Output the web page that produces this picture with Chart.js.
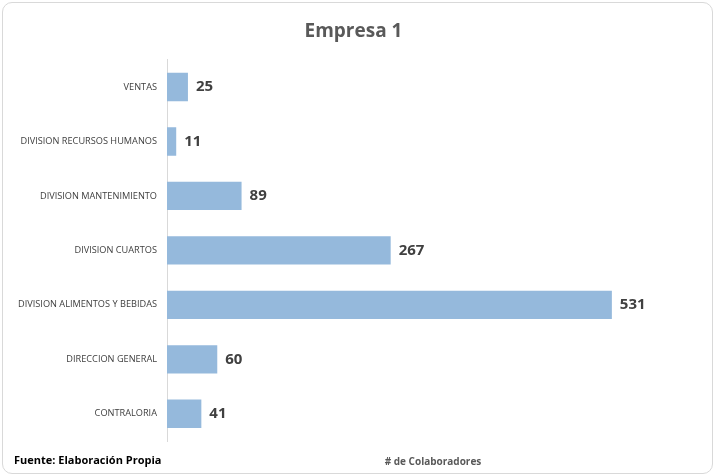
<!DOCTYPE html>
<html><head><meta charset="utf-8">
<script src="https://cdn.jsdelivr.net/npm/chart.js@4/dist/chart.umd.min.js"></script>
<style>
html,body{margin:0;padding:0;background:#fff;}
#wrap{position:absolute;left:2px;top:2px;width:709px;height:470px;border:1px solid #d9d9d9;border-radius:10px;overflow:hidden;background:#fff;}
canvas{position:absolute;left:-3px;top:-3px;}
</style></head><body>
<div id="wrap"><canvas id="c" width="715" height="476"></canvas></div>
<script>
const categories = ["VENTAS","DIVISION RECURSOS HUMANOS","DIVISION MANTENIMIENTO","DIVISION CUARTOS","DIVISION ALIMENTOS Y BEBIDAS","DIRECCION GENERAL","CONTRALORIA"];
const colaboradores = [25, 11, 89, 267, 531, 60, 41];
const chartTitle = "Empresa 1";
const axisTitle = "# de Colaboradores";
const sourceNote = "Fuente: Elaboración Propia";

const valueLabels = {
  id: 'valueLabels',
  afterDatasetsDraw(chart) {
    const ctx = chart.ctx;
    const meta = chart.getDatasetMeta(0);
    ctx.save();
    ctx.font = 'bold 15px "Open Sans", sans-serif';
    ctx.fillStyle = '#404040';
    ctx.textAlign = 'left';
    ctx.textBaseline = 'middle';
    meta.data.forEach((bar, i) => {
      ctx.fillText(String(colaboradores[i]), bar.x + 8, bar.y);
    });
    ctx.restore();
  }
};
const footNote = {
  id: 'footNote',
  afterDraw(chart) {
    const ctx = chart.ctx;
    ctx.save();
    ctx.font = 'bold 11px "Open Sans", sans-serif';
    ctx.fillStyle = '#000';
    ctx.textAlign = 'left';
    ctx.textBaseline = 'middle';
    ctx.fillText(sourceNote, 14, 461);
    ctx.restore();
  }
};

new Chart(document.getElementById('c'), {
  type: 'bar',
  data: {
    labels: categories,
    datasets: [{
      data: colaboradores,
      backgroundColor: '#95b9dc',
      borderWidth: 0,
      categoryPercentage: 1,
      barPercentage: 0.52
    }]
  },
  options: {
    indexAxis: 'y',
    responsive: false,
    animation: false,
    devicePixelRatio: 1,
    layout: { padding: { left: 8, right: 16, top: 0, bottom: 8 } },
    plugins: {
      legend: { display: false },
      tooltip: { enabled: false },
      title: {
        display: true,
        text: chartTitle,
        color: '#595959',
        font: { family: '"Open Sans", sans-serif', size: 19, weight: 'bold' },
        padding: { top: 20, bottom: 17 }
      }
    },
    scales: {
      x: {
        min: 0,
        max: 635,
        grid: { display: false, drawTicks: false },
        border: { display: false },
        ticks: { display: false },
        title: {
          display: true,
          text: axisTitle,
          color: '#595959',
          font: { family: '"Open Sans", sans-serif', size: 10, weight: 'bold' },
          padding: { top: 15, bottom: 0 }
        }
      },
      y: {
        grid: { display: false, drawTicks: false },
        border: { display: true, color: '#d9d9d9', width: 1 },
        afterFit(scale) { scale.width = 159; },
        ticks: {
          color: '#404040',
          padding: 10,
          font: { family: '"Open Sans", sans-serif', size: 9.2 }
        }
      }
    }
  },
  plugins: [valueLabels, footNote]
});
</script>
</body></html>
